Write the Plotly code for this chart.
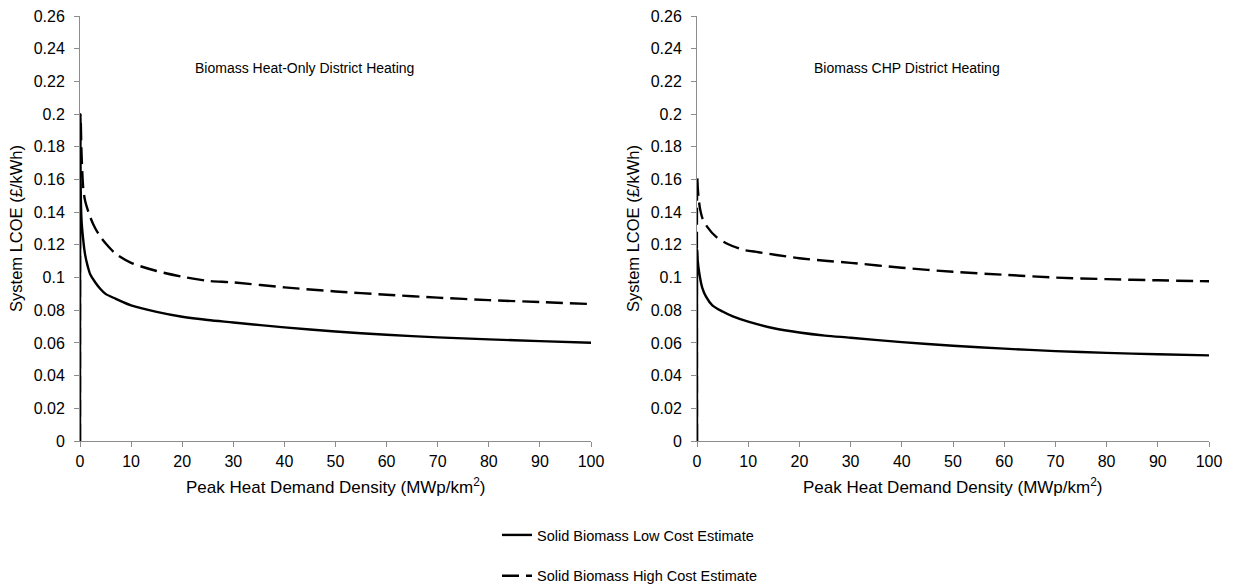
import plotly.graph_objects as go

# Peak heat demand density (MWp/km2) and system LCOE (GBP/kWh)
heat_only_low_x = [0, 0.03, 0.1, 0.3, 0.6, 1, 1.5, 2, 3, 4, 5, 7, 10, 15, 20, 25, 30,
                   40, 50, 60, 70, 80, 90, 100]
heat_only_low_y = [0, 0.197, 0.160, 0.135, 0.124, 0.114, 0.107, 0.102, 0.097, 0.093,
                   0.090, 0.087, 0.083, 0.079, 0.076, 0.074, 0.0725, 0.0695, 0.0670,
                   0.0650, 0.0634, 0.0622, 0.0611, 0.0601]

heat_only_high_x = [0, 0.1, 0.3, 0.65, 1, 2, 3, 4, 5, 7, 10, 15, 20, 25, 30,
                    40, 50, 60, 70, 80, 90, 100]
heat_only_high_y = [0, 0.200, 0.176, 0.154, 0.147, 0.137, 0.130, 0.125, 0.121, 0.1145,
                    0.109, 0.104, 0.1005, 0.098, 0.097, 0.094, 0.0915, 0.0895, 0.0877,
                    0.0862, 0.0850, 0.0838]

chp_low_x = [0, 0.05, 0.15, 0.45, 1, 1.76, 3, 5, 7, 10, 15, 20, 25, 30,
             40, 50, 60, 70, 80, 90, 100]
chp_low_y = [0, 0.117, 0.110, 0.1026, 0.094, 0.0883, 0.083, 0.0792, 0.0762, 0.0730,
             0.0690, 0.0664, 0.0645, 0.0632, 0.0605, 0.0583, 0.0565, 0.0550, 0.0539,
             0.0531, 0.0524]

chp_high_x = [0, 0.05, 0.15, 0.3, 0.6, 1.1, 2, 3.7, 6, 9, 12, 15.5, 20, 25, 30,
              40, 50, 60, 70, 80, 90, 100]
chp_high_y = [0, 0.161, 0.155, 0.149, 0.142, 0.136, 0.131, 0.125, 0.1205, 0.117,
              0.1155, 0.1138, 0.1118, 0.1103, 0.109, 0.106, 0.1035, 0.1017, 0.1000,
              0.0990, 0.0983, 0.0977]

series_names = ["Solid Biomass Low Cost Estimate", "Solid Biomass High Cost Estimate"]
panel_titles = ["Biomass Heat-Only District Heating", "Biomass CHP District Heating"]
x_axis_title = "Peak Heat Demand Density (MWp/km<sup>2</sup>)"
y_axis_title = "System LCOE (£/kWh)"

y_tick_vals = [0, 0.02, 0.04, 0.06, 0.08, 0.1, 0.12, 0.14, 0.16, 0.18, 0.2, 0.22, 0.24, 0.26]
y_tick_text = ["0", "0.02", "0.04", "0.06", "0.08", "0.1", "0.12", "0.14", "0.16",
               "0.18", "0.2", "0.22", "0.24", "0.26"]
x_tick_vals = [0, 10, 20, 30, 40, 50, 60, 70, 80, 90, 100]

FONT = "Liberation Sans, Arial, sans-serif"
W, H = 1235, 587
DASH = "17px,7px"

fig = go.Figure()

panels = [
    ("x", "y", heat_only_low_x, heat_only_low_y, heat_only_high_x, heat_only_high_y, True),
    ("x2", "y2", chp_low_x, chp_low_y, chp_high_x, chp_high_y, False),
]
for xa, ya, lx, ly, hx, hy, show in panels:
    fig.add_trace(go.Scatter(x=lx, y=ly, mode="lines", name=series_names[0],
                             line=dict(color="black", width=2.4, shape="spline", smoothing=0.8),
                             xaxis=xa, yaxis=ya, showlegend=show, legendgroup="low"))
    fig.add_trace(go.Scatter(x=hx, y=hy, mode="lines", name=series_names[1],
                             line=dict(color="black", width=2.4, dash=DASH,
                                       shape="spline", smoothing=0.8),
                             xaxis=xa, yaxis=ya, showlegend=show, legendgroup="high"))

left_dom = [80 / W, 591 / W]
right_dom = [697 / W, 1209 / W]
y_dom = [1 - 441 / H, 1 - 16 / H]

axis_common = dict(showgrid=False, zeroline=False, showline=True, linecolor="#8c8c8c",
                   linewidth=1, ticks="outside", ticklen=5, tickcolor="#8c8c8c",
                   automargin=False,
                   tickfont=dict(family=FONT, size=16, color="black"))

y_title = dict(text=y_axis_title,
               font=dict(family=FONT, size=16.5, color="black"), standoff=6)

annotations = [
    dict(text=panel_titles[0], x=44, y=0.228, xref="x", yref="y", showarrow=False,
         font=dict(family=FONT, size=14, color="black")),
    dict(text=panel_titles[1], x=41, y=0.228, xref="x2", yref="y2", showarrow=False,
         font=dict(family=FONT, size=14, color="black")),
]
# x-axis titles placed under the tick labels of each panel
for dom in (left_dom, right_dom):
    annotations.append(dict(text=x_axis_title, x=(dom[0] + dom[1]) / 2, y=1 - 486 / H,
                            xref="paper", yref="paper", xanchor="center", yanchor="middle",
                            showarrow=False, font=dict(family=FONT, size=17, color="black")))

fig.update_layout(
    width=W, height=H,
    margin=dict(l=0, r=0, t=0, b=0, autoexpand=False),
    paper_bgcolor="white", plot_bgcolor="white",
    font=dict(family=FONT, size=14, color="black"),
    xaxis=dict(domain=left_dom, range=[0, 100], tickvals=x_tick_vals, anchor="y",
               ticklabelstandoff=1, **axis_common),
    yaxis=dict(domain=y_dom, range=[0, 0.26], tickvals=y_tick_vals, ticktext=y_tick_text,
               anchor="x", title=y_title, ticklabelstandoff=6, **axis_common),
    xaxis2=dict(domain=right_dom, range=[0, 100], tickvals=x_tick_vals, anchor="y2",
                ticklabelstandoff=1, **axis_common),
    yaxis2=dict(domain=y_dom, range=[0, 0.26], tickvals=y_tick_vals, ticktext=y_tick_text,
                anchor="x2", title=y_title, ticklabelstandoff=6, **axis_common),
    legend=dict(x=497 / W, xanchor="left", y=-5 / H, yanchor="bottom",
                orientation="v", tracegroupgap=19,
                font=dict(family=FONT, size=14.5, color="black"),
                bgcolor="rgba(0,0,0,0)"),
    annotations=annotations,
)

fig.write_html("out.html")
